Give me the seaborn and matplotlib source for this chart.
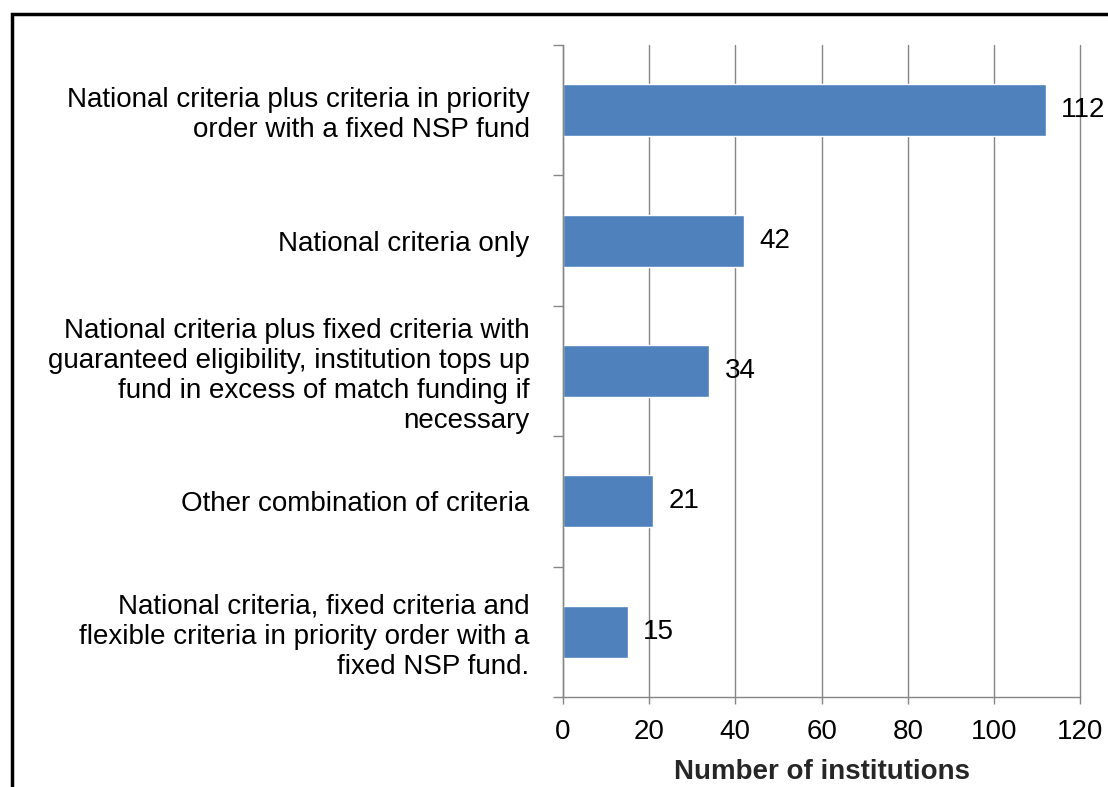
import matplotlib
matplotlib.use("Agg")
import matplotlib.pyplot as plt
import matplotlib.patches as mpatches
from matplotlib.ticker import FixedLocator
import seaborn as sns
import pandas as pd

categories = [
    "National criteria plus criteria in priority\norder with a fixed NSP fund",
    "National criteria only",
    "National criteria plus fixed criteria with\nguaranteed eligibility, institution tops up\nfund in excess of match funding if\nnecessary",
    "Other combination of criteria",
    "National criteria, fixed criteria and\nflexible criteria in priority order with a\nfixed NSP fund.",
]
values = [112, 42, 34, 21, 15]
x_ticks = [0, 20, 40, 60, 80, 100, 120]
x_label = "Number of institutions"

sns.set_theme(style="white")
plt.rcParams['font.family'] = ['Liberation Sans', 'DejaVu Sans']

df = pd.DataFrame({"category": categories, "value": values})

fig = plt.figure(figsize=(11.08, 7.87), dpi=100)
ax = fig.add_axes([0.508, 0.1144, 0.467, 0.8284])

sns.barplot(data=df, x="value", y="category", orient="h", color="#4F81BD",
            saturation=1, width=0.4, ax=ax)

grid_col = "#868686"
FS = 20
ax.set_xlim(0, 120)
ax.set_ylim(len(categories) - 0.5, -0.5)
ax.set_xticks(x_ticks)
ax.set_xticklabels([str(t) for t in x_ticks], fontsize=FS)
ax.xaxis.grid(True, color=grid_col, linewidth=1.0)
for gl in ax.get_xgridlines():
    gl.set_clip_on(False)
ax.yaxis.grid(False)
ax.set_axisbelow(True)

ax.tick_params(axis="y", length=0, pad=24, labelsize=FS, labelcolor="black")
for lbl in ax.get_yticklabels():
    lbl.set_linespacing(1.2)
ax.tick_params(axis="x", length=5, width=1, color=grid_col, pad=11, labelcolor="black", bottom=True)
ax.yaxis.set_minor_locator(FixedLocator([i - 0.5 for i in range(len(categories) + 1)]))
ax.tick_params(axis="y", which="minor", length=7, width=1, color=grid_col, left=True)

for s in ["top", "right"]:
    ax.spines[s].set_visible(False)
for s in ["left", "bottom"]:
    ax.spines[s].set_color(grid_col)
    ax.spines[s].set_linewidth(1.0)

ax.set_ylabel("")
ax.set_xlabel(x_label, fontsize=FS, fontweight="bold", labelpad=10)

for i, v in enumerate(values):
    ax.annotate(str(v), xy=(v, i), xytext=(11, 0), textcoords="offset points",
                va="center", ha="left", fontsize=FS, color="black",
                annotation_clip=False)

border = mpatches.Rectangle((0.0108, -0.2), 1.2, 0.2 + 0.982, transform=fig.transFigure,
                            fill=False, edgecolor="black", linewidth=2.5, clip_on=False)
fig.patches.append(border)

fig.savefig("out.png", dpi=100)
